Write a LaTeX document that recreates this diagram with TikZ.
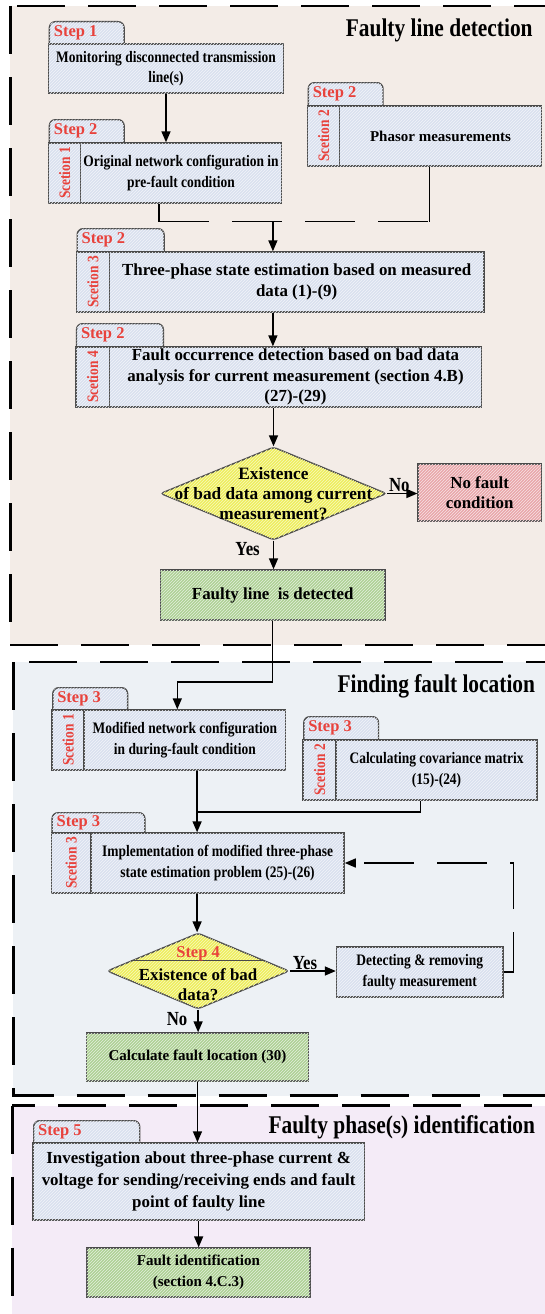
\documentclass[tikz,border=0pt]{standalone}
\usepackage{fontspec}
\setmainfont{Liberation Serif}[FakeStretch=0.84]
\newfontfamily\stepfont{Liberation Serif}
\usetikzlibrary{shapes.geometric,arrows.meta,patterns,calc}

\definecolor{bgdetect}{HTML}{F3ECE7}
\definecolor{bglocate}{HTML}{EDF1F5}
\definecolor{bgphase}{HTML}{F4EBF7}
\definecolor{boxblue}{HTML}{DAE1EF}
\definecolor{boxgreen}{HTML}{A9CF8E}
\definecolor{boxred}{HTML}{E9A2A5}
\definecolor{boxyellow}{HTML}{EEEE5E}
\definecolor{stepred}{HTML}{E8423C}
\definecolor{edgegray}{HTML}{4A4A4A}

\tikzset{
  region/.style={draw=black, line width=2.6, dash pattern=on 48 off 23},
  regiontitle/.style={font=\bfseries\fontsize{25.5}{30}\selectfont, anchor=base east, inner sep=0},
  hatched/.style={postaction={pattern=north east lines, pattern color=#1}},
  edged/.style={draw=edgegray, line width=1.4},
  tabbox/.style={edged, fill=boxblue, hatched=boxblue!35!white, rounded corners=6, anchor=north west, minimum height=30, inner sep=0},
  steplabel/.style={font=\stepfont\bfseries\fontsize{16.5}{18}\selectfont, text=stepred, anchor=west, inner sep=0},
  secbox/.style={edged, fill=boxblue, hatched=boxblue!35!white, inner sep=0, rotate=90, font=\bfseries\fontsize{16}{18}\selectfont, text=stepred},
  procbox/.style={edged, fill=boxblue, hatched=boxblue!35!white, inner sep=0, align=center, font=\bfseries\fontsize{16}{20.5}\selectfont},
  wideface/.style={font=\stepfont\bfseries\fontsize{16.9}{20.5}\selectfont},
  midface/.style={font=\stepfont\bfseries\fontsize{15}{20.5}\selectfont},
  endbox/.style={procbox, fill=boxgreen, hatched=boxgreen!45!white},
  stopbox/.style={procbox, fill=boxred, hatched=boxred!45!white},
  decision/.style={diamond, edged, fill=boxyellow, hatched=boxyellow!40!white, inner sep=0, rounded corners=3},
  dectext/.style={align=center, font=\stepfont\bfseries\fontsize{17.3}{20}\selectfont, inner sep=0},
  answer/.style={font=\bfseries\fontsize{20}{22}\selectfont, inner sep=1},
  flow/.style={draw=black, line width=1.5, -{Triangle[length=11,width=9]}},
  conn/.style={draw=black, line width=1.5},
  dashconn/.style={conn, dash pattern=on 50 off 23},
}

\begin{document}
\begin{tikzpicture}[x=1pt, y=-1pt]
\useasboundingbox (0,0) rectangle (545,1314);

% the three stages
\draw[region, fill=bgdetect] (10.4,6) rectangle (570,645);
\draw[region, fill=bglocate] (13.2,662) rectangle (570,1095.5);
\draw[region, fill=bgphase] (12.2,1105.5) rectangle (570,1340);

\node[regiontitle] (title1) at (532.8,37) {Faulty line detection};
\node[regiontitle] (title2) at (535.3,692) {Finding fault location};
\node[regiontitle] (title3) at (535.3,1133) {Faulty phase(s) identification};

% tabs
\node[tabbox, minimum width=74.7] (tab1) at (48.7,21) {};
\node[tabbox, minimum width=74.7] (tab2) at (48.7,119) {};
\node[tabbox, minimum width=74.7] (tab3) at (307.6,82) {};
\node[tabbox, minimum width=86.9] (tab4) at (76.5,228) {};
\node[tabbox, minimum width=86.9] (tab5) at (75.8,323) {};
\node[tabbox, minimum width=74.8] (tab6) at (52.1,687) {};
\node[tabbox, minimum width=74.7] (tab7) at (303.1,716) {};
\node[tabbox, minimum width=92.8] (tab8) at (51.4,812) {};
\node[tabbox, minimum width=106] (tab9) at (33,1120) {};

% stage 1
\node[procbox, minimum width=234.6, minimum height=49] (m1) at (166,68.5) {Monitoring disconnected transmission\\line(s)};
\node[secbox, minimum width=60, minimum height=31.9] (sec1) at (64.65,173) {Scetion 1};
\node[procbox, minimum width=200.9, minimum height=60] (m2) at (181.05,173) {Original network configuration in\\pre-fault condition};
\node[secbox, minimum width=60, minimum height=32] (sec2) at (323.6,136) {Scetion 2};
\node[procbox, midface, minimum width=201.9, minimum height=60] (ph) at (440.55,136) {Phasor measurements};
\node[secbox, minimum width=60, minimum height=33] (sec3) at (93,282) {Scetion 3};
\node[procbox, wideface, minimum width=374.3, minimum height=60] (m3) at (296.65,282) {Three-phase state estimation based on measured\\data (1)-(9)};
\node[secbox, minimum width=60, minimum height=33.7] (sec4) at (92.65,377) {Scetion 4};
\node[procbox, wideface, minimum width=371.9, minimum height=60] (m4) at (295.45,377) {Fault occurrence detection based on bad data\\analysis for current measurement (section 4.B)\\(27)-(29)};
\node[decision, minimum width=226, minimum height=93] (d1) at (273.5,493.5) {};
\node[dectext] (d1t) at (d1) {Existence\\of bad data among current\\measurement?};
\node[stopbox, wideface, minimum width=123.1, minimum height=57] (nf) at (479.65,492.5) {No fault\\condition};
\node[endbox, wideface, minimum width=224.2, minimum height=50] (fl) at (272.7,595) {Faulty line\ \ is detected};

% stage 2
\node[secbox, minimum width=60, minimum height=32] (sec5) at (68.1,740) {Scetion 1};
\node[procbox, minimum width=201.6, minimum height=60] (m5) at (184.9,740) {Modified network configuration\\in during-fault condition};
\node[secbox, minimum width=60, minimum height=33] (sec6) at (319.6,770) {Scetion 2};
\node[procbox, minimum width=200.9, minimum height=60] (m6) at (436.55,770) {Calculating covariance matrix\\(15)-(24)};
\node[secbox, minimum width=60, minimum height=39.7] (sec7) at (71.25,863) {Scetion 3};
\node[procbox, minimum width=253, minimum height=60] (m7) at (217.6,863) {Implementation of modified three-phase\\state estimation problem (25)-(26)};
\node[decision, minimum width=182, minimum height=76] (d2) at (198.1,971) {};
\draw[edgegray, line width=1.3] ($(d2.west)!0.27!(d2.north)$) -- ($(d2.east)!0.27!(d2.north)$);
\node[steplabel, anchor=center] (step6) at (198.1,954) {Step 4};
\node[dectext, font=\stepfont\bfseries\fontsize{16.9}{19.5}\selectfont] (d2t) at (198.1,984.5) {Existence of bad\\data?};
\node[procbox, minimum width=166.5, minimum height=50] (dr) at (419.75,972) {Detecting \& removing\\faulty measurement};
\node[endbox, midface, minimum width=222.5, minimum height=48] (ca) at (197.45,1057) {Calculate fault location (30)};

% stage 3
\node[procbox, wideface, font=\stepfont\bfseries\fontsize{16.9}{22}\selectfont, minimum width=331.3, minimum height=77] (m8) at (198.65,1181.5) {Investigation about three-phase current \&\\voltage for sending/receiving ends and fault\\point of faulty line};
\node[endbox, midface, minimum width=223.1, minimum height=49] (fi) at (198.45,1272.5) {Fault identification\\(section 4.C.3)};

% step labels
\node[steplabel] (step1) at ($(tab1.north west)+(5,11.5)$) {Step 1};
\node[steplabel] (step2) at ($(tab2.north west)+(5,11.5)$) {Step 2};
\node[steplabel] (step3) at ($(tab3.north west)+(5,11.5)$) {Step 2};
\node[steplabel] (step4) at ($(tab4.north west)+(5,11.5)$) {Step 2};
\node[steplabel] (step5) at ($(tab5.north west)+(5,11.5)$) {Step 2};
\node[steplabel] (step7) at ($(tab6.north west)+(5,11.5)$) {Step 3};
\node[steplabel] (step8) at ($(tab7.north west)+(5,11.5)$) {Step 3};
\node[steplabel] (step9) at ($(tab8.north west)+(5,10.5)$) {Step 3};
\node[steplabel] (step10) at ($(tab9.north west)+(5,11.5)$) {Step 5};

% connectors
\coordinate (jl) at (159.2,221.7);
\coordinate (jr) at (429.3,221.7);
\coordinate (j1) at (272.9,221.7);
\coordinate (j2) at (177.3,682);
\coordinate (j3) at (197.1,812);
\coordinate (j4) at (420.6,812);
\coordinate (j5) at (513.7,863);

\draw[flow] (m1.south) -- (m1.south |- m2.north);
\draw[conn] (m2.south -| jl) -- (jl);
\draw[conn] (ph.south -| jr) -- (jr);
\draw[dashconn] (jl) -- (jr);
\draw[flow] (j1) -- (j1 |- m3.north);
\draw[flow] (j1 |- m3.south) -- (j1 |- m4.north);
\draw[flow] (d1.north |- m4.south) -- (d1.north);
\draw[flow] (d1.east) -- node[answer, above, pos=0.4] (no1) {No} (d1.east -| nf.west);
\draw[flow] (d1.south) -- node[answer, left=12pt, pos=0.3] (yes1) {Yes} (d1.south |- fl.north);
\draw[flow] (fl.south) |- (j2) -- (j2 |- m5.north);
\draw[flow] (m5.south -| j3) -- (j3 |- m7.north);
\draw[conn] (m6.south -| j4) -- (j4) -- (j3);
\draw[flow] (j3 |- m7.south) -- (j3 |- d2.north);
\draw[flow] (d2.east) -- node[answer, above, pos=0.33] (yes2) {Yes} (d2.east -| dr.west);
\draw[flow, dash pattern=on 50 off 23] (dr.east) -| (j5) -- (m7.east);
\draw[flow] (d2.south) -- node[answer, left=9pt, pos=0.4] (no2) {No} (d2.south |- ca.north);
\draw[flow] (ca.south) -- (ca.south |- m8.north);
\draw[flow] (m8.south) -- (m8.south |- fi.north);
\end{tikzpicture}
\end{document}
